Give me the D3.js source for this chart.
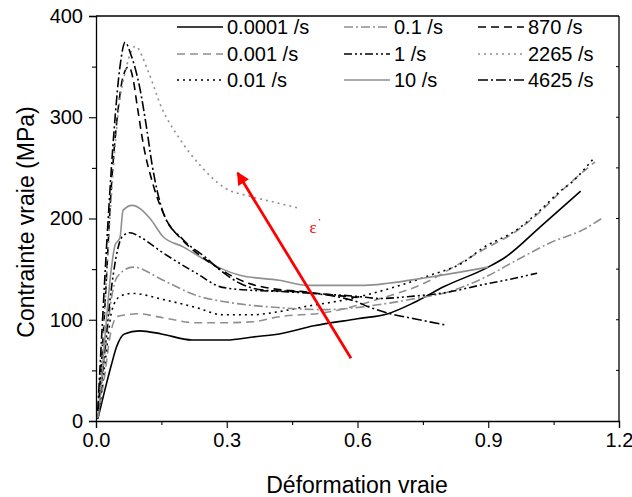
<!DOCTYPE html>
<html><head><meta charset="utf-8">
<script src="https://cdn.jsdelivr.net/npm/d3@7"></script>
<style>
html,body{margin:0;padding:0;background:#fff;}
svg{display:block;font-family:"Liberation Sans",Arial,sans-serif;}
</style></head>
<body><svg id="c" width="632" height="497"></svg>
<script>
// ---- data (strain, stress MPa) ----
const r0001 = [[0.004,2],[0.02,30],[0.035,55],[0.047,73],[0.065,86],[0.1,89],[0.15,86],[0.22,80],[0.3,80],[0.36,83],[0.42,86],[0.5,94],[0.6,101],[0.67,106],[0.73,117],[0.8,133],[0.9,152],[0.94,162],[1.02,192],[1.112,227]];
const r001 = [[0.004,3],[0.02,45],[0.032,83],[0.048,103],[0.07,105],[0.094,106],[0.154,102],[0.23,97],[0.29,97],[0.36,98],[0.42,103],[0.525,107],[0.645,120],[0.767,139],[0.812,150],[0.888,169],[0.966,188],[1.02,207],[1.065,226],[1.145,256]];
const r01 = [[0.005,4],[0.02,55],[0.037,110],[0.055,123],[0.083,126],[0.154,120],[0.23,112],[0.29,105],[0.36,105],[0.42,108],[0.48,113],[0.575,120],[0.675,131],[0.767,144],[0.84,156],[0.888,171],[0.966,189],[1.019,208],[1.065,227],[1.092,236],[1.141,259]];
const r1 = [[0.005,4],[0.02,65],[0.035,120],[0.048,142],[0.085,152],[0.154,139],[0.23,124],[0.307,117],[0.42,112],[0.525,110],[0.651,115],[0.72,120],[0.812,128],[0.888,141],[0.966,159],[1.042,176],[1.118,189],[1.16,200]];
const r10 = [[0.005,5],[0.02,70],[0.035,130],[0.05,170],[0.06,182],[0.078,186],[0.1,182],[0.154,166],[0.23,146],[0.29,132],[0.36,129],[0.42,128],[0.5,126],[0.6,123],[0.651,121],[0.72,123],[0.805,127],[0.88,134],[0.95,140],[1.012,146]];
const r1e1 = [[0.005,5],[0.02,80],[0.035,150],[0.044,174],[0.055,181],[0.062,208],[0.083,213],[0.124,200],[0.154,182],[0.2,172],[0.239,162],[0.285,151],[0.33,144],[0.42,139],[0.487,134],[0.617,134],[0.67,136],[0.75,141],[0.835,147],[0.9,152]];
const r870 = [[0.005,10],[0.02,110],[0.035,230],[0.05,305],[0.062,340],[0.075,350],[0.085,338],[0.095,310],[0.11,270],[0.13,235],[0.16,200],[0.2,178],[0.25,160],[0.3,146],[0.35,136],[0.4,131],[0.47,128],[0.53,125],[0.6,122]];
const r2265 = [[0.005,10],[0.02,110],[0.035,220],[0.05,300],[0.07,350],[0.09,370],[0.12,345],[0.15,310],[0.19,280],[0.24,252],[0.296,230],[0.353,222],[0.41,216],[0.468,210]];
const r4625 = [[0.004,10],[0.015,100],[0.028,200],[0.042,290],[0.055,350],[0.067,374],[0.08,362],[0.1,330],[0.117,287],[0.128,255],[0.155,205],[0.2,179],[0.25,162],[0.285,149],[0.33,136],[0.39,129],[0.45,128],[0.5,126],[0.55,123],[0.59,119],[0.63,112],[0.675,106],[0.73,101],[0.8,95]];

const rateLabels = ["0.0001 /s","0.001 /s","0.01 /s","0.1 /s","1 /s","10 /s","870 /s","2265 /s","4625 /s"];
const xTicks = [0, 0.3, 0.6, 0.9, 1.2];
const yTicks = [0, 100, 200, 300, 400];

// ---- styles ----
const GRAY = "#8f8f8f";
const series = [
  {d:r0001, c:"#000", dash:null},
  {d:r001,  c:GRAY, dash:"8,5"},
  {d:r01,   c:"#000", dash:"2,4"},
  {d:r1,    c:GRAY, dash:"9,3,2,3"},
  {d:r10,   c:"#000", dash:"8,3,2,3,2,3"},
  {d:r1e1,  c:GRAY, dash:null},
  {d:r870,  c:"#000", dash:"8,5"},
  {d:r2265, c:GRAY, dash:"2,4"},
  {d:r4625, c:"#000", dash:"10,3,2,3"}
];

const svg = d3.select("#c");
const L=96, R=619, T=16, B=421;
const x = d3.scaleLinear().domain([0,1.2]).range([L,R]);
const y = d3.scaleLinear().domain([0,400]).range([B,T]);

// frame top/right
svg.append("line").attr("x1",L).attr("x2",R).attr("y1",T).attr("y2",T).attr("stroke","#000").attr("stroke-width",1.3);
svg.append("line").attr("x1",R).attr("x2",R).attr("y1",T).attr("y2",B).attr("stroke","#000").attr("stroke-width",1.3);
// right inner ticks
svg.append("g").selectAll("line").data(d3.range(50,400,50)).join("line")
  .attr("x1",R).attr("x2",R-3).attr("y1",d=>y(d)).attr("y2",d=>y(d)).attr("stroke","#000");

// axes
const xa = svg.append("g").attr("transform",`translate(0,${B})`)
  .call(d3.axisBottom(x).tickValues(xTicks).tickFormat(d3.format(".1f")).tickSize(7).tickPadding(5));
svg.append("g").attr("transform",`translate(0,${B})`)
  .call(d3.axisBottom(x).tickValues([0.15,0.45,0.75,1.05]).tickFormat("").tickSize(4))
  .select(".domain").remove();
const ya = svg.append("g").attr("transform",`translate(${L},0)`)
  .call(d3.axisLeft(y).tickValues(yTicks).tickSize(7).tickPadding(6));
svg.append("g").attr("transform",`translate(${L},0)`)
  .call(d3.axisLeft(y).tickValues([50,150,250,350]).tickFormat("").tickSize(4))
  .select(".domain").remove();
svg.selectAll(".domain").attr("stroke-width",1.3);
svg.selectAll(".tick text").attr("font-size",20).attr("fill","#000").attr("font-family","Liberation Sans, Arial, sans-serif");
svg.selectAll(".tick line").attr("stroke-width",1.1);

// titles
svg.append("text").attr("x",357).attr("y",493).attr("text-anchor","middle").attr("font-size",23).text("Déformation vraie");
svg.append("text").attr("transform","translate(34,222) rotate(-90)").attr("text-anchor","middle").attr("font-size",23).text("Contrainte vraie (MPa)");

// curves
const line = d3.line().x(d=>x(d[0])).y(d=>y(d[1])).curve(d3.curveMonotoneX);
const g = svg.append("g");
series.forEach(s=>{
  g.append("path").attr("d",line(s.d)).attr("fill","none").attr("stroke",s.c)
   .attr("stroke-width",1.6).attr("stroke-dasharray",s.dash);
});

// red arrow
const defs = svg.append("defs");
defs.append("marker").attr("id","ah").attr("viewBox","0 0 10 10").attr("refX",9).attr("refY",5)
  .attr("markerWidth",5).attr("markerHeight",4.5).attr("orient","auto").attr("markerUnits","strokeWidth")
  .append("path").attr("d","M0,0 L10,5 L0,10 Z").attr("fill","#ff0000");
svg.append("line").attr("x1",x(0.585)).attr("y1",y(62)).attr("x2",x(0.325)).attr("y2",y(245))
  .attr("stroke","#ff0000").attr("stroke-width",2.8).attr("marker-end","url(#ah)");
svg.append("text").attr("x",x(0.49)).attr("y",y(186)).attr("font-family","Liberation Serif, serif")
  .attr("font-size",17).attr("fill","#ff0000").text("ε");
svg.append("circle").attr("cx",x(0.49)+10).attr("cy",y(186)-13).attr("r",0.7).attr("fill","#ff0000");

// legend
const cols = [177, 344, 478];
const rows = [27, 54, 80];
rateLabels.forEach((lab,i)=>{
  const col = Math.floor(i/3), row = i%3;
  const s = series[i];
  const lg = svg.append("g");
  lg.append("line").attr("x1",cols[col]).attr("x2",cols[col]+46).attr("y1",rows[row]).attr("y2",rows[row])
    .attr("stroke",s.c).attr("stroke-width",1.6).attr("stroke-dasharray",s.dash);
  lg.append("text").attr("x",cols[col]+50).attr("y",rows[row]+7).attr("font-size",20).text(lab);
});
</script></body></html>
